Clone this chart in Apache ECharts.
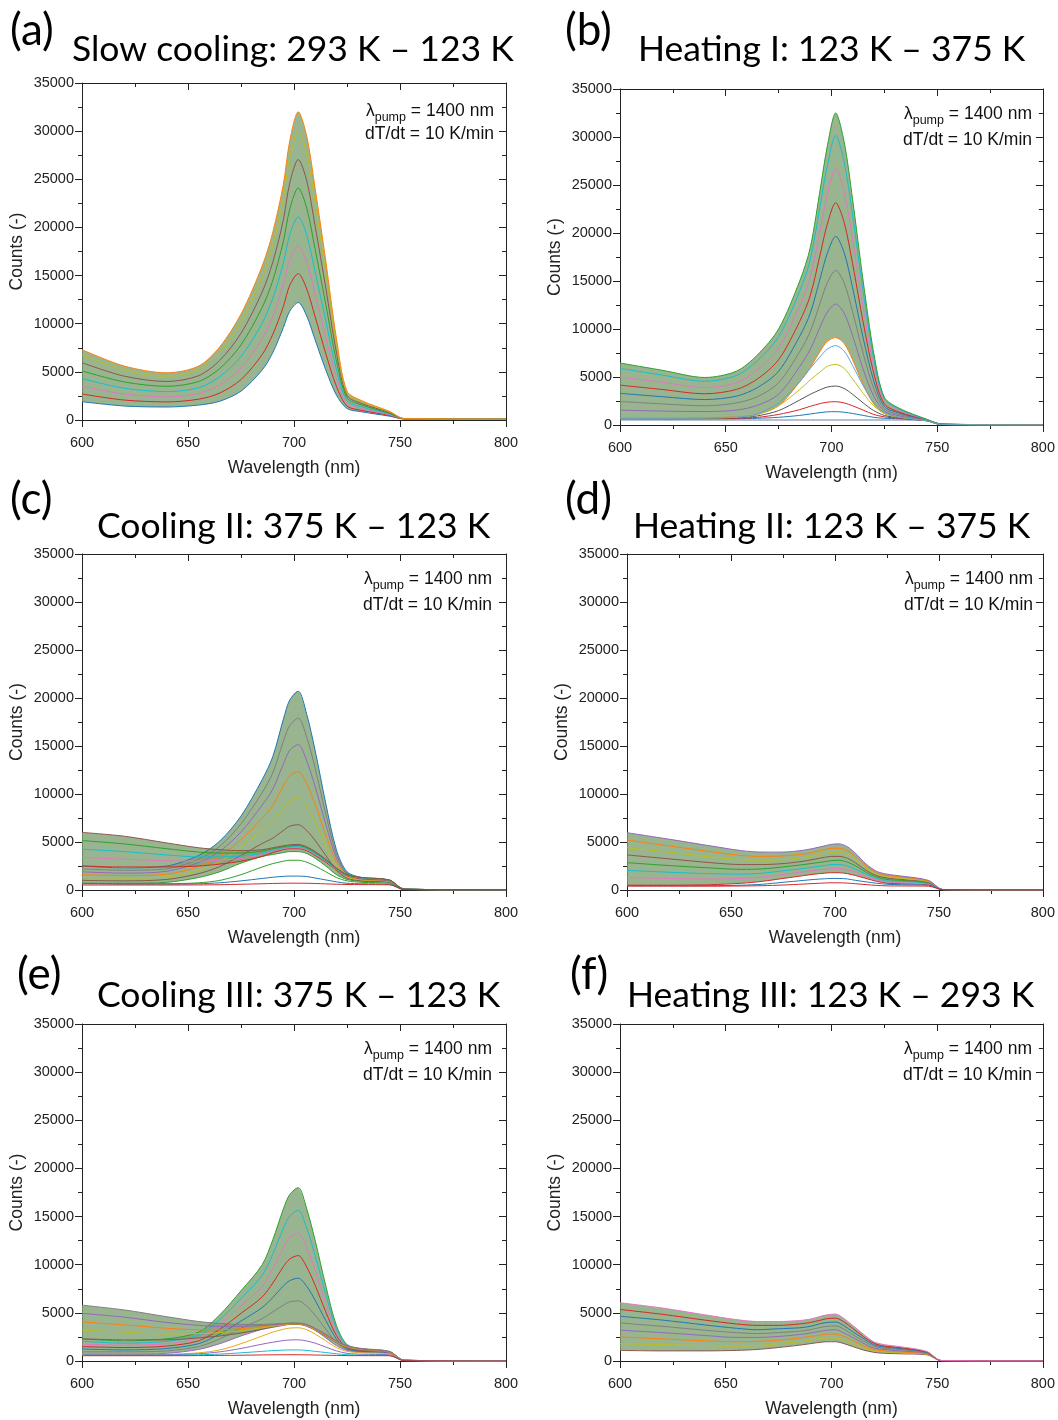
<!DOCTYPE html>
<html><head><meta charset="utf-8">
<script src="https://cdn.jsdelivr.net/npm/echarts@6/dist/echarts.min.js"></script>
<style>html,body{margin:0;padding:0;background:#fff}#c{width:1058px;height:1420px}</style>
</head><body><div id="c"></div>
<script>
// ---------------- data ----------------
const W = [600,620,640,655,665,675,685,690,695,698,702,706,710,715,720,725,732,745,752,800];
const X_MIN = 600, X_MAX = 800, X_STEP = 50, Y_MIN = 0, Y_MAX = 35000, Y_STEP = 5000;
const panelLabels = ['(a)','(b)','(c)','(d)','(e)','(f)'];
const panelTitles = ['Slow cooling: 293 K \u2013 123 K','Heating I: 123 K \u2013 375 K','Cooling II: 375 K \u2013 123 K','Heating II: 123 K \u2013 375 K','Cooling III: 375 K \u2013 123 K','Heating III: 123 K \u2013 293 K'];
const noteLine1 = ['\u03bb','pump',' = 1400 nm'];
const noteLine2 = 'dT/dt = 10 K/min';
const xName = 'Wavelength (nm)', yName = 'Counts (-)';

// (a)
const aTop    = [7300,5600,4900,5600,7600,11000,16000,19500,24500,29000,32000,29500,24000,16500,8500,3000,2000,900,150,80];
const aBottom = [1900,1450,1350,1550,1950,3000,5200,7000,9600,11300,12200,10800,8300,5200,2600,1200,850,400,100,80];
const aMid = [
 [2700,2070,1880,2160,2800,4200,6800,8900,11800,14000,15200,13600,10700,6900,3500,1450,1000,480,110,80],
 [3500,2700,2400,2750,3650,5400,8450,10750,14100,16600,18100,16400,13000,8600,4350,1750,1200,550,115,80],
 [4300,3300,2950,3350,4500,6600,10050,12650,16300,19250,21100,19200,15350,10300,5250,2000,1350,630,120,80],
 [5100,3950,3500,4000,5350,7800,11700,14500,18550,21900,24100,22000,17700,12000,6150,2300,1550,700,130,80],
 [5950,4550,4000,4600,6200,9000,13300,16400,20800,24600,27050,24850,20100,13700,7050,2550,1700,780,140,80],
 [6750,5200,4550,5200,7050,10200,14900,18250,23000,27250,30000,27650,22450,15350,7900,2800,1900,850,145,80]
];
// (b)
const bTop    = [6460,5700,4950,5600,7300,10000,15000,18500,25000,29000,32500,29500,23500,15000,7500,2900,1750,600,120,0];
const bBottom = [700,700,750,850,1100,2000,4500,6000,7800,8700,9100,8500,6800,4200,2200,1200,800,450,50,0];
const bMid = [
 [1550,1450,1400,1550,2050,3200,6100,7900,10400,11750,12600,11650,9300,5800,3000,1450,950,470,60,0],
 [2450,2200,2000,2300,2950,4400,7650,9750,12950,14800,16100,14800,11800,7450,3800,1700,1100,500,70,0],
 [3300,2950,2650,3000,3900,5600,9250,11650,15550,17850,19650,17950,14300,9050,4600,1950,1250,520,80,0],
 [4150,3700,3250,3700,4800,6800,10800,13500,18100,20900,23150,21100,16800,10700,5400,2200,1350,540,90,0],
 [5000,4450,3900,4400,5750,8000,12400,15400,20700,23950,26650,24250,19350,12300,6200,2500,1500,560,100,0],
 [5900,5200,4550,5150,6700,9200,13950,17250,23300,26950,30150,27400,21850,13900,6950,2750,1650,580,110,0]
];
const bLow = [
 [520,520,520,520,520,520,520,520,520,520,520,520,520,520,520,520,520,450,50,0],
 [650,640,640,650,700,800,1000,1150,1300,1370,1390,1330,1200,1000,800,700,650,450,50,0],
 [650,650,660,700,800,1100,1600,1950,2250,2380,2430,2300,2000,1550,1100,850,700,450,50,0],
 [680,670,690,750,950,1500,2600,3200,3700,3950,4060,3800,3200,2300,1500,1000,750,450,50,0],
 [700,690,720,800,1100,2000,3700,4700,5600,6100,6320,5900,4800,3300,2000,1200,800,450,50,0],
 [700,700,730,830,1150,2300,4500,5900,7200,7900,8270,7700,6200,4100,2300,1300,850,450,50,0]
];
// (c)
const cHTop    = [2500,2300,2500,3600,5100,7700,11500,13900,17800,19800,20700,18300,14500,9000,4200,1900,1300,1000,100,0];
const cHBottom = [700,700,800,1300,1900,2800,3500,3700,3900,4000,4000,3800,3300,2500,1600,1100,900,800,50,0];
const cHMid = [
 [1000,950,1100,1700,2450,3600,4850,5400,6200,6650,6800,6200,5150,3600,2050,1250,950,830,60,0],
 [1300,1250,1350,2050,2950,4450,6150,7100,8550,9250,9550,8650,7050,4650,2450,1350,1050,870,70,0],
 [1600,1500,1650,2450,3500,5250,7500,8800,10850,11900,12350,11050,8900,5750,2900,1500,1100,900,75,0],
 [1900,1750,1950,2850,4050,6050,8850,10500,13150,14550,15150,13450,10750,6850,3350,1650,1150,930,80,0],
 [2200,2050,2200,3200,4550,6900,10150,12200,15500,17150,17900,15900,12650,7900,3750,1750,1250,970,90,0]
];
const cLTop    = [6000,5600,4900,4400,4200,4100,4200,4400,4600,4700,4750,4500,4000,3200,2300,1600,1300,1050,100,0];
const cLBottom = [2500,2400,2400,2500,2700,3000,3500,3900,4200,4300,4300,4100,3600,2900,2100,1500,1200,1000,100,0];
const cLMid = [
 [3400,3200,3050,3000,3100,3300,3700,4050,4300,4400,4400,4200,3700,3000,2150,1550,1250,1010,100,0],
 [4250,4000,3650,3450,3450,3550,3850,4150,4400,4500,4550,4300,3800,3050,2200,1550,1250,1030,100,0],
 [5150,4800,4300,3950,3850,3850,4050,4300,4500,4600,4650,4400,3900,3150,2250,1600,1300,1040,100,0]
];
const cLow = [
 [700,650,650,750,1000,1600,2400,2750,3000,3100,3100,2900,2500,1900,1300,950,800,700,50,0],
 [650,620,620,650,750,950,1200,1330,1420,1450,1450,1400,1250,1050,850,700,650,600,50,0],
 [520,520,520,530,550,600,650,680,700,710,710,700,680,640,600,570,560,540,40,0]
];
// (d)
const dTop    = [5970,5300,4600,4100,3950,3950,4150,4350,4600,4750,4800,4500,3800,2700,1950,1650,1450,1000,50,0];
const dBottom = [500,500,550,700,900,1200,1500,1650,1750,1800,1800,1700,1500,1200,900,700,650,550,30,0];
const dMid = [
 [1300,1200,1150,1200,1350,1600,1900,2050,2150,2200,2250,2100,1850,1400,1050,850,750,600,30,0],
 [2050,1850,1700,1650,1750,2000,2250,2400,2550,2650,2650,2500,2150,1650,1200,950,900,680,35,0],
 [2850,2550,2300,2150,2200,2400,2650,2800,2950,3050,3100,2900,2500,1850,1350,1100,1000,740,40,0],
 [3650,3250,2850,2650,2650,2750,3000,3200,3400,3500,3500,3300,2800,2050,1500,1250,1100,810,40,0],
 [4400,3950,3450,3150,3100,3150,3400,3600,3800,3900,3950,3700,3150,2250,1650,1400,1200,870,45,0],
 [5200,4600,4000,3600,3500,3550,3750,3950,4200,4350,4350,4100,3450,2500,1800,1500,1350,940,50,0]
];
const dLow = [
 [450,450,450,500,600,800,1000,1100,1170,1200,1200,1150,1000,850,700,600,550,500,30,0],
 [400,400,400,420,450,520,620,680,730,750,750,720,650,560,480,430,420,400,20,0]
];
// (e)
const eHTop    = [2300,2100,2300,3000,4800,7300,10000,12600,15800,17300,18000,15800,12500,7800,3700,1700,1250,950,80,0];
const eHBottom = [700,700,800,1200,1800,2600,3300,3600,3800,3900,3900,3700,3200,2400,1600,1100,900,800,50,0];
const eHMid = [
 [950,950,1050,1500,2300,3400,4400,5100,5800,6150,6250,5700,4750,3300,1950,1200,950,830,55,0],
 [1250,1150,1300,1800,2800,4150,5550,6600,7800,8350,8600,7750,6300,4200,2300,1300,1000,850,60,0],
 [1500,1400,1550,2100,3300,4950,6650,8100,9800,10600,10950,9750,7850,5100,2650,1400,1100,880,65,0],
 [1750,1650,1800,2400,3800,5750,7750,9600,11800,12850,13300,11750,9400,6000,3000,1500,1150,900,70,0],
 [2050,1850,2050,2700,4300,6500,8900,11100,13800,15050,15650,13800,10950,6900,3350,1600,1200,930,75,0]
];
const eLTop    = [5800,5300,4600,4100,3900,3800,3800,3850,3900,3950,3950,3800,3400,2800,2100,1600,1300,1000,80,0];
const eLBottom = [2300,2200,2200,2400,2600,2900,3300,3500,3700,3800,3800,3600,3200,2600,1900,1400,1150,950,80,0];
const eLMid = [
 [3200,3000,2800,2850,2950,3150,3450,3600,3750,3850,3850,3650,3250,2650,1950,1450,1200,960,80,0],
 [4050,3750,3400,3250,3250,3350,3550,3700,3800,3900,3900,3700,3300,2700,2000,1500,1250,975,80,0],
 [4950,4550,4000,3700,3600,3600,3700,3750,3850,3900,3900,3750,3350,2750,2050,1550,1250,990,80,0]
];
const eLow = [
 [700,680,700,850,1150,1800,2600,3000,3300,3420,3450,3250,2800,2100,1400,1000,850,750,50,0],
 [650,640,650,750,950,1300,1750,1950,2120,2180,2200,2080,1850,1450,1050,800,700,650,50,0],
 [600,590,600,650,720,850,1000,1080,1130,1150,1150,1100,1000,880,750,650,620,580,40,0],
 [550,550,550,560,580,600,630,640,650,650,650,640,620,600,580,560,555,550,30,0]
];
// (f)
const fTop    = [6050,5500,4800,4300,4100,4100,4200,4350,4650,4800,4870,4400,3700,2800,2000,1700,1500,1000,50,0];
const fBottom = [1100,1050,1050,1100,1200,1400,1650,1800,1950,2000,2000,1800,1500,1150,900,800,750,650,30,0];
const fMid = [
 [1800,1700,1600,1550,1600,1800,2000,2150,2350,2400,2400,2150,1800,1400,1050,950,850,700,30,0],
 [2500,2300,2100,2000,2050,2150,2400,2550,2700,2800,2800,2550,2150,1600,1200,1050,950,750,35,0],
 [3200,2950,2650,2450,2450,2550,2750,2900,3100,3200,3250,2900,2450,1850,1350,1200,1050,800,40,0],
 [3950,3600,3200,2950,2850,2950,3100,3250,3500,3600,3650,3300,2750,2100,1550,1300,1200,850,40,0],
 [4650,4250,3750,3400,3250,3350,3450,3600,3900,4000,4050,3650,3050,2350,1700,1450,1300,900,45,0],
 [5350,4850,4250,3850,3700,3700,3850,4000,4250,4400,4450,4050,3400,2550,1850,1550,1400,950,50,0]
];

// ---------------- layout / style ----------------
const grids = [
  {left:82,  top:83,   width:424, height:337},
  {left:620, top:89,   width:424, height:336},
  {left:82,  top:554,  width:424, height:336},
  {left:627, top:554,  width:417, height:336},
  {left:82,  top:1024, width:424, height:337},
  {left:620, top:1024, width:424, height:337}
];
const titlePos = [
  {lx:10, ly:31, tx:72, ty:50}, {lx:565, ly:31, tx:638, ty:50},
  {lx:10, ly:500, tx:97, ty:527}, {lx:565, ly:500, tx:633, ty:527},
  {lx:17, ly:975, tx:97, ty:996}, {lx:570, ly:975, tx:627, ty:996}
];
const notePos = [
  {x:494, y1:111, y2:134}, {x:1032, y1:114.5, y2:140.5},
  {x:492, y1:579, y2:605.5}, {x:1033, y1:579, y2:605.5},
  {x:492, y1:1049, y2:1075.5}, {x:1032, y1:1049, y2:1075.5}
];
const tab10 = ['#1f77b4','#ff7f0e','#2ca02c','#d62728','#9467bd','#8c564b','#e377c2','#7f7f7f','#bcbd22','#17becf'];
const FILL = 'rgba(128,163,116,0.8)';
const AX = '#222';
const FONT = 'Liberation Sans, Arial, sans-serif';

const panels = [
  {bands:[[aBottom,aTop]], lines:[aBottom].concat(aMid,[aTop]), low:[], lowColors:[]},
  {bands:[[bBottom,bTop]], lines:[bBottom].concat(bMid,[bTop]), low:bLow, lowColors:['#6b7fa0','#1f77b4','#d62728','#555555','#bcbd22','#5fa2dd']},
  {bands:[[cHBottom,cHTop],[cLBottom,cLTop]], lines:[cHBottom].concat(cHMid,[cHTop,cLBottom],cLMid,[cLTop]), low:cLow, lowColors:['#2ca02c','#1f77b4','#d62728']},
  {bands:[[dBottom,dTop]], lines:[dBottom].concat(dMid,[dTop]), low:dLow, lowColors:['#1f77b4','#d62728']},
  {bands:[[eHBottom,eHTop],[eLBottom,eLTop]], lines:[eHBottom].concat(eHMid,[eHTop,eLBottom],eLMid,[eLTop]), low:eLow, lowColors:['#e5a820','#9467bd','#17becf','#d62728']},
  {bands:[[fBottom,fTop]], lines:[fBottom].concat(fMid,[fTop]), low:[], lowColors:[]}
];

function pairs(vals){ return W.map((w,i)=>[w, vals[i]]); }

const SMOOTH = 0.3;
const xAxis = [], yAxis = [], series = [], graphic = [];
grids.forEach((g,i)=>{
  const common = {gridIndex:i, type:'value', splitLine:{show:false}};
  xAxis.push(Object.assign({}, common, {
    min:X_MIN, max:X_MAX, interval:X_STEP, position:'bottom',
    axisLine:{show:true, onZero:false, lineStyle:{color:AX, width:1}},
    axisTick:{show:true, length:7, lineStyle:{color:AX}},
    minorTick:{show:true, splitNumber:2, length:4, lineStyle:{color:AX}},
    axisLabel:{fontSize:14.5, color:AX, margin:15, fontFamily:FONT, formatter:v=>String(v)},
    name:xName, nameLocation:'middle', nameGap:39,
    nameTextStyle:{fontSize:17.5, color:AX, fontFamily:FONT}
  }));
  xAxis.push(Object.assign({}, common, {
    min:X_MIN, max:X_MAX, interval:X_STEP, position:'top',
    axisLine:{show:true, onZero:false, lineStyle:{color:AX, width:1}},
    axisTick:{show:true, inside:true, length:7, lineStyle:{color:AX}},
    minorTick:{show:true, splitNumber:2, length:4, lineStyle:{color:AX}},
    axisLabel:{show:false}
  }));
  yAxis.push(Object.assign({}, common, {
    min:Y_MIN, max:Y_MAX, interval:Y_STEP, position:'left',
    axisLine:{show:true, onZero:false, lineStyle:{color:AX, width:1}},
    axisTick:{show:true, length:7, lineStyle:{color:AX}},
    minorTick:{show:true, splitNumber:2, length:4, lineStyle:{color:AX}},
    axisLabel:{fontSize:14.5, color:AX, margin:8, fontFamily:FONT, formatter:v=>String(v)},
    name:yName, nameLocation:'middle', nameGap:56, nameRotate:90,
    nameTextStyle:{fontSize:17.5, color:AX, fontFamily:FONT}
  }));
  yAxis.push(Object.assign({}, common, {
    min:Y_MIN, max:Y_MAX, interval:Y_STEP, position:'right',
    axisLine:{show:true, onZero:false, lineStyle:{color:AX, width:1}},
    axisTick:{show:true, inside:true, length:7, lineStyle:{color:AX}},
    minorTick:{show:true, splitNumber:2, length:4, lineStyle:{color:AX}},
    axisLabel:{show:false}
  }));
  const p = panels[i];
  p.bands.forEach((b)=>{
    const lo = b[0], hi = b[1];
    series.push({
      type:'custom', xAxisIndex:2*i, yAxisIndex:2*i, silent:true, clip:true, z:1, animation:false,
      data:[0],
      renderItem:(params, api)=>{
        const n = W.length, pts = [];
        // upper edge left->right, lower edge right->left; end points doubled so the
        // closed smooth outline does not bulge at the two ends
        for (let k=0;k<n;k++){ const c = api.coord([W[k], hi[k]]); pts.push(c); if(k===0||k===n-1) pts.push(c.slice()); }
        for (let k=n-1;k>=0;k--){ const c = api.coord([W[k], lo[k]]); pts.push(c); if(k===0||k===n-1) pts.push(c.slice()); }
        return {type:'polygon', shape:{points:pts, smooth:SMOOTH}, style:{fill:FILL, stroke:null}};
      }
    });
  });
  const base = {type:'line', xAxisIndex:2*i, yAxisIndex:2*i, showSymbol:false, symbol:'none', smooth:SMOOTH, silent:true, animation:false};
  p.lines.forEach((l,k)=>{
    series.push(Object.assign({}, base, {data:pairs(l), lineStyle:{width:1, color:tab10[(k*3+i)%10]}, z:3}));
  });
  p.low.forEach((l,k)=>{
    series.push(Object.assign({}, base, {data:pairs(l), lineStyle:{width:1, color:p.lowColors[k]}, z:3}));
  });
  const t = titlePos[i];
  graphic.push({type:'text', x:t.lx, y:t.ly, style:{text:panelLabels[i], font:'44px Lato', fill:'#000', textAlign:'left', textVerticalAlign:'middle'}});
  graphic.push({type:'text', x:t.tx, y:t.ty, style:{text:panelTitles[i], font:'35.5px Lato', fill:'#000', textAlign:'left', textVerticalAlign:'middle'}});
  const n = notePos[i];
  graphic.push({type:'text', x:n.x, y:n.y1, z:10, style:{
    text:'{m|'+noteLine1[0]+'}{s|'+noteLine1[1]+'}{m|'+noteLine1[2]+'}',
    textAlign:'right', textVerticalAlign:'middle', fill:'#111',
    rich:{m:{fontSize:17.5, fontFamily:FONT, fill:'#111', color:'#111', verticalAlign:'middle'},
          s:{fontSize:12.5, fontFamily:FONT, fill:'#111', color:'#111', verticalAlign:'middle', padding:[13,0,0,0]}}
  }});
  graphic.push({type:'text', x:n.x, y:n.y2, z:10, style:{text:noteLine2, font:'17.5px '+FONT, fill:'#111', textAlign:'right', textVerticalAlign:'middle'}});
});

const chart = echarts.init(document.getElementById('c'), null, {renderer:'canvas', width:1058, height:1420});
chart.setOption({
  animation:false, backgroundColor:'#fff',
  grid: grids, xAxis: xAxis, yAxis: yAxis, series: series, graphic: graphic
});
</script></body></html>
